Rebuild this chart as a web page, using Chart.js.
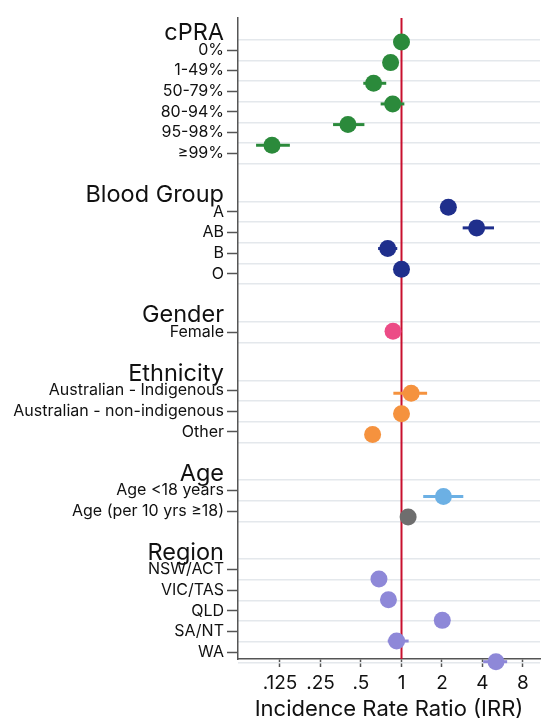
<!DOCTYPE html>
<html>
<head>
<meta charset="utf-8">
<script src="https://cdn.jsdelivr.net/npm/chart.js@4/dist/chart.umd.min.js"></script>
<style>
  html, body { margin: 0; padding: 0; background: #fff; }
  canvas { display: block; }
</style>
</head>
<body>
<canvas id="forest" width="541" height="724"></canvas>
<script>
// group headers, top to bottom
const groupNames = ['cPRA', 'Blood Group', 'Gender', 'Ethnicity', 'Age', 'Region'];

const cpraLabels = ['0%', '1-49%', '50-79%', '80-94%', '95-98%', '≥99%'];
const cpraIRR  = [1, 0.83, 0.62, 0.86, 0.40, 0.109];
const cpraLow  = [1, 0.74, 0.52, 0.70, 0.31, 0.083];
const cpraHigh = [1, 0.94, 0.77, 1.05, 0.53, 0.148];

const bloodLabels = ['A', 'AB', 'B', 'O'];
const bloodIRR  = [2.23, 3.62, 0.79, 1];
const bloodLow  = [1.98, 2.85, 0.67, 1];
const bloodHigh = [2.52, 4.87, 0.93, 1];

const genderLabels = ['Female'];
const genderIRR  = [0.865];
const genderLow  = [0.80];
const genderHigh = [0.94];

const ethnicLabels = ['Australian - Indigenous', 'Australian - non-indigenous', 'Other'];
const ethnicIRR  = [1.18, 1, 0.61];
const ethnicLow  = [0.87, 1, 0.55];
const ethnicHigh = [1.55, 1, 0.68];

const ageLabels = ['Age <18 years', 'Age (per 10 yrs ≥18)'];
const ageIRR  = [2.05, 1.12];
const ageLow  = [1.45, 1.08];
const ageHigh = [2.88, 1.16];

const regionLabels = ['NSW/ACT', 'VIC/TAS', 'QLD', 'SA/NT', 'WA'];
const regionIRR  = [0.68, 0.80, 2.01, 0.92, 5.04];
const regionLow  = [0.62, 0.73, 1.80, 0.79, 4.05];
const regionHigh = [0.75, 0.88, 2.25, 1.13, 6.10];

const xTicks = [0.125, 0.25, 0.5, 1, 2, 4, 8];
const xTickLabels = ['.125', '.25', '.5', '1', '2', '4', '8'];

const groupColors = [
  '#2b8a3b',
  '#1f2f8c',
  '#ec4c86',
  '#f5923e',
  ['#6cb0e4', '#6e6e6e'],
  '#8e88d8'
];

const groups = [
  [cpraLabels, cpraIRR, cpraLow, cpraHigh],
  [bloodLabels, bloodIRR, bloodLow, bloodHigh],
  [genderLabels, genderIRR, genderLow, genderHigh],
  [ethnicLabels, ethnicIRR, ethnicLow, ethnicHigh],
  [ageLabels, ageIRR, ageLow, ageHigh],
  [regionLabels, regionIRR, regionLow, regionHigh]
];

// row layout (in row units, top = 0). dots and labels drift a bit in the original
const Y_MAX = 31.03;
const DOT_TOP = 1.16, LABEL_TOP = 1.55;
const DOT_GAP = 3, LABEL_GAP = 2.83, HEADER_LIFT = 0.82;

let dotRow = DOT_TOP, labRow = LABEL_TOP;
const tickVals = [], tickText = [], tickHeader = [], gridVals = [];
const datasets = [];

groups.forEach((g, gi) => {
  const [labels, irr, lo, hi] = g;
  tickVals.push(labRow - HEADER_LIFT);
  tickText.push(groupNames[gi]);
  tickHeader.push(true);
  const pts = [];
  labels.forEach((lab, i) => {
    tickVals.push(labRow + i);
    tickText.push(lab);
    tickHeader.push(false);
    gridVals.push(labRow + i - 0.5);
    pts.push({ x: irr[i], y: dotRow + i, lo: lo[i], hi: hi[i] });
  });
  gridVals.push(labRow + labels.length - 0.5);
  datasets.push({
    data: pts,
    clip: false,
    pointBackgroundColor: groupColors[gi],
    pointBorderWidth: 0,
    pointRadius: 8.5,
    pointHoverRadius: 8.5
  });
  dotRow += labels.length - 1 + DOT_GAP;
  labRow += labels.length - 1 + LABEL_GAP;
});

// red line at IRR = 1 plus the confidence intervals
const ciPlugin = {
  id: 'ciPlugin',
  beforeDatasetsDraw(chart) {
    const { ctx, chartArea, scales } = chart;
    const x = scales.x, y = scales.y;
    ctx.save();
    const x1 = x.getPixelForValue(1);
    ctx.strokeStyle = '#c8102e';
    ctx.lineWidth = 2;
    ctx.beginPath();
    ctx.moveTo(x1, chartArea.top);
    ctx.lineTo(x1, chartArea.bottom);
    ctx.stroke();

    ctx.lineWidth = 3;
    chart.data.datasets.forEach(ds => {
      ds.data.forEach((p, i) => {
        if (p.lo === p.hi) return;
        const c = Array.isArray(ds.pointBackgroundColor) ? ds.pointBackgroundColor[i] : ds.pointBackgroundColor;
        const py = y.getPixelForValue(p.y);
        ctx.strokeStyle = c;
        ctx.beginPath();
        ctx.moveTo(x.getPixelForValue(p.lo), py);
        ctx.lineTo(x.getPixelForValue(p.hi), py);
        ctx.stroke();
      });
    });
    ctx.restore();
  }
};

const FONT = "Inter, 'Liberation Sans', Arial, sans-serif";

new Chart(document.getElementById('forest'), {
  type: 'scatter',
  data: { datasets: datasets },
  plugins: [ciPlugin],
  options: {
    responsive: false,
    animation: false,
    layout: { autoPadding: false, padding: { top: 18, right: 1, bottom: 0, left: 0 } },
    plugins: { legend: { display: false }, tooltip: { enabled: false } },
    scales: {
      x: {
        type: 'logarithmic',
        min: Math.pow(2, -4.037),
        max: Math.pow(2, 3.42),
        afterBuildTicks: s => { s.ticks = xTicks.map(v => ({ value: v })); },
        afterFit: s => { s.height = 65; s.paddingLeft = 0; s.paddingRight = 0; },
        ticks: {
          autoSkip: false,
          maxRotation: 0,
          padding: 5,
          color: '#111',
          font: { family: FONT, size: 19 },
          callback: (v, i) => xTickLabels[i]
        },
        grid: { drawOnChartArea: false, tickLength: 8, tickColor: '#555', tickWidth: 1.5 },
        border: { color: '#555', width: 1.5 },
        title: {
          display: true,
          text: 'Incidence Rate Ratio (IRR)',
          color: '#111',
          font: { family: FONT, size: 22 },
          padding: { top: 0, bottom: 1 }
        }
      },
      y: {
        type: 'linear',
        position: 'left',
        reverse: true,
        min: 0,
        max: Y_MAX,
        afterBuildTicks: s => { s.ticks = tickVals.map(v => ({ value: v })); },
        afterFit: s => { s.width = 238; },
        ticks: {
          autoSkip: false,
          padding: 3,
          color: '#111',
          font: ctx => ({ family: FONT, size: tickHeader[ctx.index] ? 23.5 : 16 }),
          callback: (v, i) => tickText[i]
        },
        grid: {
          drawOnChartArea: false,
          tickLength: 11,
          tickWidth: 1.5,
          tickColor: ctx => tickHeader[ctx.index] ? 'rgba(0,0,0,0)' : '#555'
        },
        border: { color: '#555', width: 1.5 }
      },
      yg: {
        type: 'linear',
        position: 'right',
        reverse: true,
        min: 0,
        max: Y_MAX,
        afterBuildTicks: s => { s.ticks = gridVals.map(v => ({ value: v })); },
        afterFit: s => { s.width = 0; },
        ticks: { display: false },
        grid: { color: '#e4e8ec', lineWidth: 1.5, drawTicks: false },
        border: { display: false }
      }
    }
  }
});
</script>
</body>
</html>
